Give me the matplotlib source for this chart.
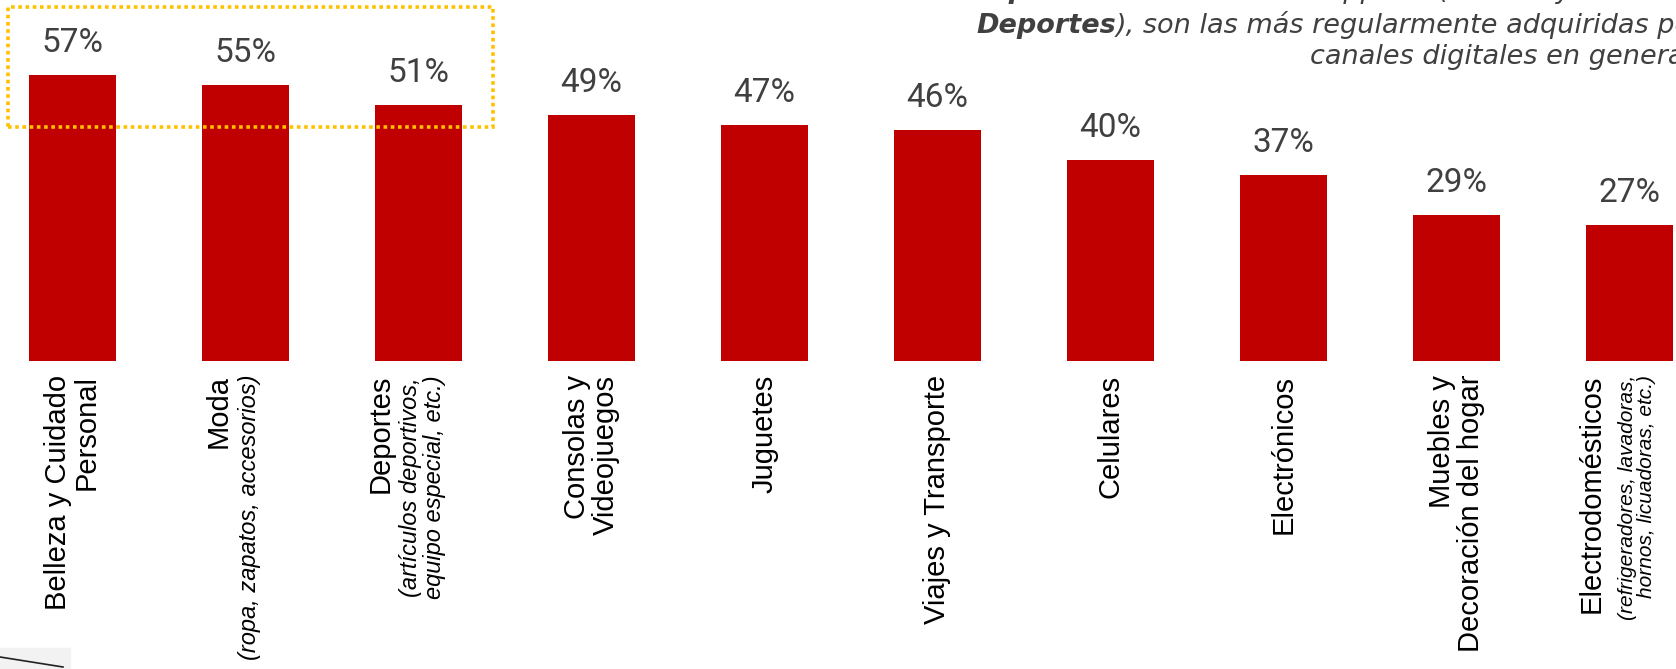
import matplotlib
matplotlib.use("Agg")
import matplotlib.pyplot as plt
from matplotlib.patches import Rectangle
from matplotlib.lines import Line2D

# data
categories = ["Belleza y Cuidado\nPersonal", "Moda", "Deportes",
              "Consolas y\nVideojuegos", "Juguetes", "Viajes y Transporte",
              "Celulares", "Electrónicos", "Muebles y\nDecoración del hogar",
              "Electrodomésticos"]
subtitles = ["", "(ropa, zapatos, accesorios)",
             "(artículos deportivos,\nequipo especial, etc.)",
             "", "", "", "", "", "",
             "(refrigeradores, lavadoras,\nhornos, licuadoras, etc.)"]
values = [57, 55, 51, 49, 47, 46, 40, 37, 29, 27]

title_bold = ["Compras", "Deportes", ""]
title_rest = [" de estilo de vida: apparel (Belleza y Cuidado Personal, Moda y",
              "), son las más regularmente adquiridas por",
              "canales digitales en general."]

W, H = 1676, 669
fig = plt.figure(figsize=(W / 100, H / 100), dpi=100)
ax = fig.add_axes([0, (H - 361) / H, 1, 361 / H])
ax.set_xlim(-0.419, 9.269)
ax.set_ylim(0, 71.9)
ax.axis("off")

x = list(range(len(values)))
ax.bar(x, values, width=0.503, color="#C00000")

for i, v in zip(x, values):
    ax.annotate(f"{v}%", xy=(i, v), xytext=(0, 23), textcoords="offset pixels",
                ha="center", va="baseline", fontsize=24, color="#404040",
                family="Roboto")

for i, (cat, sub) in enumerate(zip(categories, subtitles)):
    nsub = sub.count("\n") + 1 if sub else 0
    main_dx = {0: 0, 1: -27, 2: -38}[nsub]
    ax.annotate(cat, xy=(i, 0), xytext=(main_dx, -14), textcoords="offset pixels",
                rotation=90, ha="center", va="top", multialignment="right",
                fontsize=21, family="Liberation Sans", color="black",
                linespacing=1.05, annotation_clip=False)
    if sub:
        small = nsub == 2 and i == len(categories) - 1
        ax.annotate(sub, xy=(i, 0), xytext=(4 if nsub == 1 else (8 if small else 4), -14),
                    textcoords="offset pixels", rotation=90, ha="center", va="top",
                    multialignment="right" if small else "center",
                    fontsize=15 if small else 17, style="italic",
                    family="Liberation Sans", color="black",
                    linespacing=1.0 if small else 1.05, annotation_clip=False)

# dotted highlight around the top three bars
ax.add_patch(Rectangle((-0.373, 46.6), 2.803, 23.9, fill=False,
                       edgecolor="#FFC000", lw=2.6, linestyle=(0, (1, 1)),
                       clip_on=False))

# title text, cut by the right and top edges as in the source
title_x = [942, 976, 1310]
title_y = [-2, 33, 64]
fig.canvas.draw()
renderer = fig.canvas.get_renderer()
for bx, by, b, r in zip(title_x, title_y, title_bold, title_rest):
    xr = bx
    if b:
        t = fig.text(bx / W, 1 - by / H, b, fontsize=19.5, style="italic",
                     weight="bold", color="#404040", va="baseline",
                     family="DejaVu Sans")
        xr = t.get_window_extent(renderer).x1
    fig.text(xr / W, 1 - by / H, r, fontsize=19.5, style="italic",
             color="#404040", va="baseline", family="DejaVu Sans")

# little fragment in the bottom-left corner
fig.patches.append(Rectangle((0, 0), 70 / W, 21 / H, transform=fig.transFigure,
                             color="#F2F2F2", zorder=0))
fig.lines.append(Line2D([0, 63 / W], [12 / H, 2 / H], transform=fig.transFigure,
                        color="#222222", lw=1.2))

fig.savefig("out.png", dpi=100)
